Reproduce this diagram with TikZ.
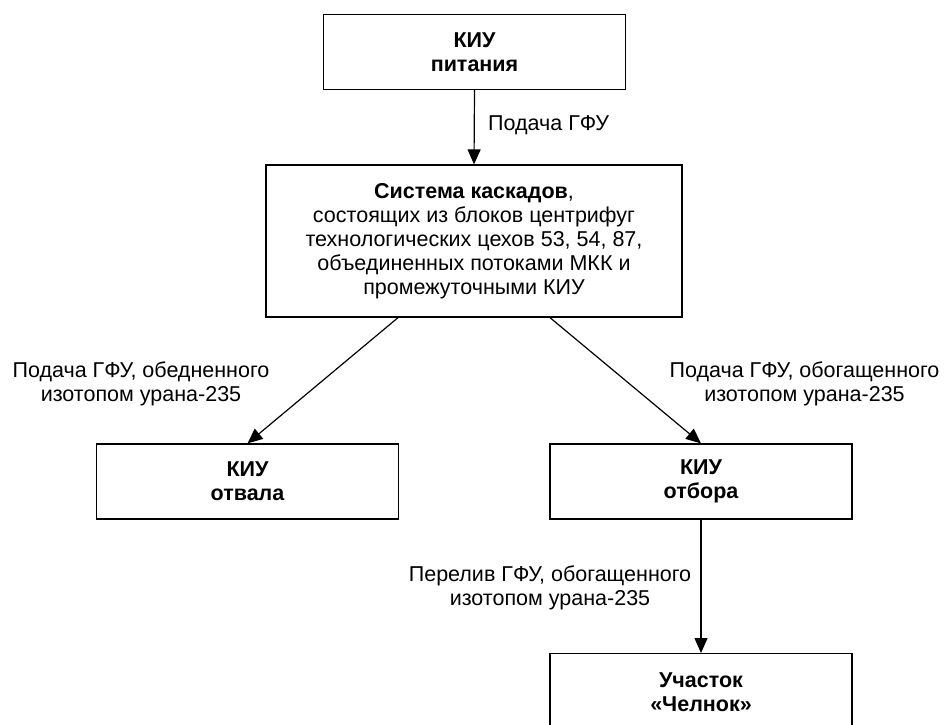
\documentclass[tikz,border=0pt]{standalone}
\usepackage{fontspec}
\setmainfont{Liberation Sans}
\usepackage{xcolor}
\usepackage{tikz}
\usetikzlibrary{calc,arrows.meta}
\definecolor{ink}{HTML}{000000}
\tikzset{
  box/.style={draw=ink, line width=1.3pt, align=center, minimum width=302pt,
    minimum height=75pt, inner sep=2pt, font=\bfseries},
  arr/.style={draw=ink, line width=1.2pt, -{Triangle[length=15pt,width=13pt]}},
  lab/.style={text=ink, align=center, inner sep=0pt}
}

\begin{document}
\begin{tikzpicture}[x=1pt,y=-1pt]
  \fontsize{21.5}{24}\selectfont
  \useasboundingbox (0,0) rectangle (944,724);
  \clip (0,0) rectangle (944,724);
  % boxes
  \node[box] (feed) at (474.5,52) {КИУ\\питания};
  \node[box, minimum width=416pt, minimum height=152pt, font=\mdseries] (casc) at (474,241)
    {\textbf{Система каскадов},\\состоящих из блоков центрифуг\\технологических цехов 53, 54, 87,\\объединенных потоками МКК и\\промежуточными КИУ};
  \node[box] (tails) at (247.5,481.5) {КИУ\\отвала};
  \node[box] (prod) at (701,481.5) {КИУ\\отбора};
  \node[box, minimum height=78pt, anchor=north] (shuttle) at (701,653) {Участок\\«Челнок»};
  \coordinate (casc-l) at ([xshift=-76pt]casc.south);
  \coordinate (casc-r) at ([xshift=76pt]casc.south);
  % flows
  \draw[arr] (feed.south) -- (casc.north);
  \draw[arr] (casc-l) -- (tails.north);
  \draw[arr] (casc-r) -- (prod.north);
  \draw[arr] (prod.south) -- (shuttle.north);
  % labels
  \node[lab, anchor=west] (l-feed) at (488,125) {Подача ГФУ};
  \node[lab] (l-tails) at (141,384) {Подача ГФУ, обедненного\\изотопом урана-235};
  \node[lab] (l-prod) at (804.5,384) {Подача ГФУ, обогащенного\\изотопом урана-235};
  \node[lab] (l-shuttle) at (550,588) {Перелив ГФУ, обогащенного\\изотопом урана-235};
\end{tikzpicture}
\end{document}
